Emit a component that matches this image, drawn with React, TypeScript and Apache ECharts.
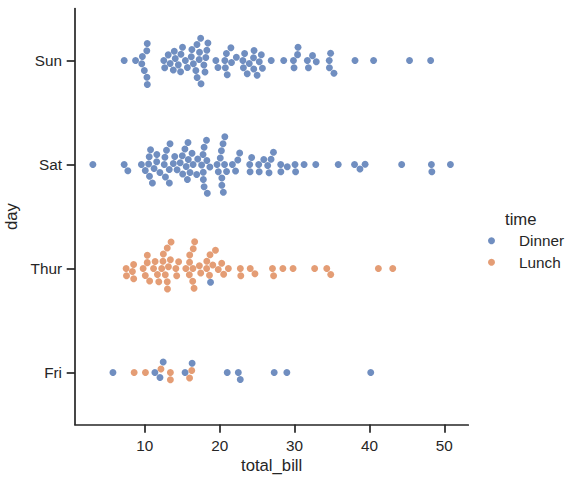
import React, { useEffect, useRef } from "react";
import * as echarts from "echarts";

// ---------------- data ----------------
const days = ["Sun", "Sat", "Thur", "Fri"];
const xTicks = [10, 20, 30, 40, 50];

const sunDinner = [
  16.99, 10.34, 21.01, 23.68, 24.59, 25.29, 8.77, 26.88, 15.04, 14.78, 10.27, 35.26, 15.42, 18.43, 14.83, 21.58, 10.33, 16.29, 16.97,
  17.46, 13.94, 9.68, 30.4, 18.29, 22.23, 32.4, 28.55, 18.04, 12.54, 10.29, 34.81, 9.94, 25.56, 19.49,
  38.07, 23.95, 25.71, 17.31, 29.93,
  14.07, 13.13, 17.26, 24.55, 19.77, 29.85, 48.17, 25.0, 13.39, 16.49, 21.5, 12.66, 16.21, 13.81, 17.51, 24.52, 20.76, 31.71,
  7.25, 31.85, 16.82, 32.9, 17.89, 14.48, 9.6, 34.63, 34.65, 23.33, 45.35, 23.17, 40.55, 20.69, 20.9, 30.46, 18.15, 23.1, 15.69,
];
const sunLunch: number[] = [];

const satDinner = [
  20.65, 17.92, 20.29, 15.77, 39.42, 19.82, 17.81, 13.37, 12.69, 21.7, 19.65, 9.55, 18.35, 15.06, 20.69, 17.78, 24.06, 16.31, 16.93, 18.69, 31.27, 16.04,
  38.01, 26.41, 11.24, 48.27, 20.29, 13.81, 11.02, 18.29, 17.59, 20.08, 16.45, 3.07, 20.23, 15.01, 12.02, 17.07, 26.86, 25.28, 14.73, 10.51, 17.92,
  44.3, 22.42, 20.92, 15.36, 20.49, 25.21, 18.24, 14.31, 14.0, 7.25,
  10.59, 10.63, 50.81, 15.81,
  26.59, 38.73, 24.27, 12.76, 30.06, 25.89, 48.33, 13.27, 28.17, 12.9, 28.15, 11.59, 7.74, 30.14,
  20.45, 13.28, 22.12, 24.01, 15.69, 11.61, 10.77, 15.53, 10.07, 12.6, 32.83, 35.83, 29.03, 27.18, 22.67, 17.82,
];
const satLunch: number[] = [];

const thurLunch = [
  27.2, 22.76, 17.29, 19.44, 16.66, 10.07, 32.68, 15.98, 34.83, 13.03, 18.28, 24.71, 21.16,
  10.65, 12.43, 24.08, 11.69, 13.42, 14.26, 15.95, 12.48, 29.8, 8.52, 14.52, 11.38, 22.82, 19.08, 20.27, 11.17, 12.26, 18.26, 8.51,
  10.33, 14.15, 16.0, 13.16, 17.47, 34.3, 41.19, 27.05, 16.43, 8.35, 18.64, 11.87, 9.78, 7.51,
  19.81, 28.44, 15.48, 16.58, 7.56, 10.34, 43.11, 13.0, 13.51, 18.71, 12.74, 13.0, 16.4, 20.53, 16.47,
];
const thurDinner = [18.78];

const friDinner = [28.97, 22.49, 5.75, 16.32, 22.75, 40.17, 27.28, 12.03, 21.01, 12.46, 11.35, 15.38];
const friLunch = [12.16, 13.42, 8.58, 15.98, 13.42, 16.27, 10.09];

const dinnerByDay = [sunDinner, satDinner, thurDinner, friDinner];
const lunchByDay = [sunLunch, satLunch, thurLunch, friLunch];

// ---------------- layout ----------------
const W = 577;
const H = 483;
const GRID_LEFT = 75;
const GRID_TOP = 8.5;
const GRID_W = 393.3;
const GRID_H = 416;
const X_MIN = 0.683;
const X_MAX = 53.197;
const PX_PER_UNIT = GRID_W / (X_MAX - X_MIN);
const BAND_PX = GRID_H / days.length;
const RADIUS = (5 / 2) * (100 / 72);

const FONT = "'Liberation Sans', Arial, 'DejaVu Sans', sans-serif";
const TXT = "#262626";
const BLUE = "#4c72b0";
const ORANGE = "#dd8452";

// Beeswarm (seaborn-style) offsets in pixels, positive = upward on screen
function swarmOffsets(values: number[]): number[] {
  const n = values.length;
  const out = new Array(n).fill(0);
  if (n === 0) return out;
  const order = values.map((_, i) => i).sort((a, b) => values[a] - values[b]);
  const placed: { x: number; y: number; r: number }[] = [];
  order.forEach((orig, k) => {
    const y = values[orig] * PX_PER_UNIT;
    if (k === 0) {
      placed.push({ x: 0, y, r: RADIUS });
      out[orig] = 0;
      return;
    }
    const neighbors: { x: number; y: number; r: number }[] = [];
    for (let j = placed.length - 1; j >= 0; j--) {
      if (y - placed[j].y < RADIUS + placed[j].r) neighbors.unshift(placed[j]);
      else break;
    }
    const cands: number[] = [0];
    let leftFirst = true;
    for (const nb of neighbors) {
      const dy = y - nb.y;
      const dx = Math.sqrt(Math.max((RADIUS + nb.r) ** 2 - dy * dy, 0)) * 1.05;
      if (leftFirst) cands.push(nb.x - dx, nb.x + dx);
      else cands.push(nb.x + dx, nb.x - dx);
      leftFirst = !leftFirst;
    }
    const sorted = cands
      .map((c, i) => ({ c, i }))
      .sort((a, b) => Math.abs(a.c) - Math.abs(b.c) || a.i - b.i)
      .map((o) => o.c);
    let chosen = sorted[0];
    if (neighbors.length) {
      for (const c of sorted) {
        const ok = neighbors.every((nb) => (nb.x - c) ** 2 + (nb.y - y) ** 2 >= (nb.r + RADIUS) ** 2);
        if (ok) {
          chosen = c;
          break;
        }
      }
    }
    placed.push({ x: chosen, y, r: RADIUS });
    out[orig] = chosen;
  });
  return out;
}

function buildSeriesData() {
  const dinner: number[][] = [];
  const lunch: number[][] = [];
  days.forEach((_, d) => {
    const dv = dinnerByDay[d];
    const lv = lunchByDay[d];
    const all = [...dv, ...lv];
    const offs = swarmOffsets(all);
    all.forEach((v, i) => {
      const yVal = d - offs[i] / BAND_PX;
      if (i < dv.length) dinner.push([v, yVal]);
      else lunch.push([v, yVal]);
    });
  });
  return { dinner, lunch };
}

export default function App() {
  const ref = useRef<HTMLDivElement>(null);
  useEffect(() => {
    if (!ref.current) return;
    const chart = echarts.init(ref.current, null, { renderer: "svg" });
    const { dinner, lunch } = buildSeriesData();
    const axisLineStyle = { color: TXT, width: 1.7 };
    chart.setOption({
      animation: false,
      backgroundColor: "#ffffff",
      textStyle: { fontFamily: FONT },
      grid: {
        left: GRID_LEFT,
        top: GRID_TOP,
        width: GRID_W,
        height: GRID_H,
        containLabel: false,
        outerBoundsMode: "none",
      },
      xAxis: {
        type: "value",
        min: X_MIN,
        max: X_MAX,
        name: "total_bill",
        nameLocation: "middle",
        nameGap: 30,
        nameTextStyle: { fontSize: 16.7, color: TXT, fontFamily: FONT },
        axisLine: { show: true, onZero: false, lineStyle: axisLineStyle },
        axisTick: { show: true, length: 8.3, lineStyle: axisLineStyle, customValues: xTicks },
        axisLabel: { fontSize: 15.3, color: TXT, fontFamily: FONT, margin: 13, customValues: xTicks },
        splitLine: { show: false },
      },
      yAxis: [
        {
          type: "category",
          data: days,
          inverse: true,
          boundaryGap: true,
          name: "day",
          nameLocation: "middle",
          nameGap: 45,
          nameTextStyle: { fontSize: 16.7, color: TXT, fontFamily: FONT },
          axisLine: { show: true, onZero: false, lineStyle: axisLineStyle },
          axisTick: { show: true, alignWithLabel: true, length: 8.3, lineStyle: axisLineStyle },
          axisLabel: { fontSize: 15.3, color: TXT, fontFamily: FONT, margin: 13 },
          splitLine: { show: false },
        },
        {
          type: "value",
          min: -0.5,
          max: 3.5,
          inverse: true,
          show: false,
          splitLine: { show: false },
        },
      ],
      legend: {
        orient: "vertical",
        left: 488,
        top: 231.7,
        padding: 0,
        itemWidth: 7,
        itemHeight: 7,
        itemGap: 3.6,
        icon: "circle",
        data: ["Dinner", "Lunch"],
        textStyle: { fontSize: 15.3, color: TXT, fontFamily: FONT, lineHeight: 18, padding: [0, 0, 0, 19] },
      },
      graphic: [
        {
          type: "text",
          x: 505,
          y: 219,
          style: { text: "time", fontSize: 16.7, fill: TXT, fontFamily: FONT, verticalAlign: "middle", align: "left" },
        },
      ],
      series: [
        {
          name: "Dinner",
          type: "scatter",
          yAxisIndex: 1,
          data: dinner,
          symbol: "circle",
          symbolSize: 6.94,
          itemStyle: { color: BLUE },
        },
        {
          name: "Lunch",
          type: "scatter",
          yAxisIndex: 1,
          data: lunch,
          symbol: "circle",
          symbolSize: 6.94,
          itemStyle: { color: ORANGE },
        },
      ],
    });
    return () => chart.dispose();
  }, []);
  return (
    <div
      ref={ref}
      style={{ position: "absolute", left: 0, top: 0, width: W, height: H, background: "#fff" }}
    />
  );
}
